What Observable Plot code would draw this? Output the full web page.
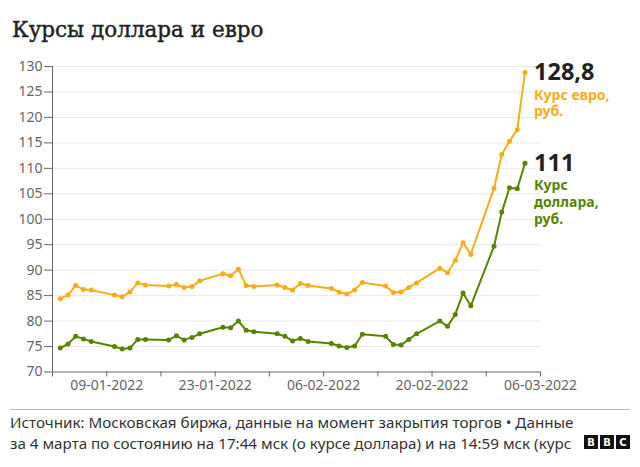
<!DOCTYPE html>
<html><head><meta charset="utf-8">
<script src="https://cdn.jsdelivr.net/npm/d3@7"></script>
<script src="https://cdn.jsdelivr.net/npm/@observablehq/plot@0.6"></script>
<style>
body{margin:0;background:#fff;width:640px;height:467px;overflow:hidden;position:relative;font-family:"Noto Sans",sans-serif;}
#title{position:absolute;left:12px;top:17px;font-family:"DejaVu Serif",serif;font-size:21.5px;color:#222;white-space:nowrap;-webkit-text-stroke:0.45px #222}
#chart{position:absolute;left:0;top:50px;}
#rule{position:absolute;left:10px;top:409px;width:620px;height:1px;background:#bbb}
#foot{position:absolute;left:10px;top:412px;font-size:15.2px;line-height:20.5px;color:#333;white-space:nowrap}
#logo{position:absolute;left:584px;top:435px;display:flex;gap:2px}
#logo span{width:14px;height:14px;background:#111;color:#fff;font:bold 10px "DejaVu Sans",sans-serif;display:flex;align-items:center;justify-content:center}
</style></head><body>
<div id="title">Курсы доллара и евро</div>
<div id="chart"></div>
<div id="rule"></div>
<div id="foot"><div>Источник: Московская биржа, данные на момент закрытия торгов • Данные</div><div>за 4 марта по состоянию на 17:44 мск (о курсе доллара) и на 14:59 мск (курс</div></div>
<div id="logo"><span>B</span><span>B</span><span>C</span></div>
<script>
const dates = [
  "2022-01-03","2022-01-04","2022-01-05","2022-01-06","2022-01-07",
  "2022-01-10","2022-01-11","2022-01-12","2022-01-13","2022-01-14",
  "2022-01-17","2022-01-18","2022-01-19","2022-01-20","2022-01-21",
  "2022-01-24","2022-01-25","2022-01-26","2022-01-27","2022-01-28",
  "2022-01-31","2022-02-01","2022-02-02","2022-02-03","2022-02-04",
  "2022-02-07","2022-02-08","2022-02-09","2022-02-10","2022-02-11",
  "2022-02-14","2022-02-15","2022-02-16","2022-02-17","2022-02-18",
  "2022-02-21","2022-02-22","2022-02-23","2022-02-24","2022-02-25",
  "2022-02-28","2022-03-01","2022-03-02","2022-03-03","2022-03-04"
];
const usd = [
  74.7, 75.5, 77.0, 76.5, 76.0,
  75.0, 74.5, 74.7, 76.4, 76.4,
  76.3, 77.1, 76.3, 76.8, 77.5,
  78.8, 78.7, 80.0, 78.2, 77.9,
  77.5, 77.0, 76.1, 76.6, 76.0,
  75.6, 75.1, 74.8, 75.1, 77.4,
  77.0, 75.4, 75.3, 76.4, 77.5,
  80.0, 79.0, 81.3, 85.5, 83.0,
  94.7, 101.4, 106.2, 106.0, 111.0
];
const eur = [
  84.4, 85.1, 87.0, 86.2, 86.1,
  85.1, 84.8, 85.7, 87.5, 87.1,
  86.9, 87.2, 86.6, 86.8, 87.9,
  89.3, 88.9, 90.2, 87.0, 86.8,
  87.1, 86.6, 86.1, 87.4, 87.0,
  86.4, 85.7, 85.3, 86.1, 87.6,
  86.9, 85.6, 85.7, 86.6, 87.5,
  90.4, 89.5, 91.9, 95.4, 93.1,
  106.1, 112.7, 115.3, 117.6, 128.8
];
const seriesKeys = ["eur", "usd"];
const seriesNames = ["Курс евро,\nруб.", "Курс\nдоллара,\nруб."];
const lastLabels = ["128,8", "111"];
const seriesColors = ["#FAAB18", "#588300"];
const yTicks = [70, 75, 80, 85, 90, 95, 100, 105, 110, 115, 120, 125, 130];
const xTickLabels = ["09-01-2022", "23-01-2022", "06-02-2022", "20-02-2022", "06-03-2022"];
const xDomain = ["2022-01-02", "2022-03-06"];

const parse = d3.utcParse("%Y-%m-%d");
const fmt = d3.utcFormat("%d-%m-%Y");
const seriesValues = [eur, usd];
const rows = [];
seriesValues.forEach((vals, i) => vals.forEach((v, j) => rows.push({date: parse(dates[j]), value: v, series: seriesKeys[i]})));
const lastRows = seriesValues.map((vals, i) => ({date: parse(dates[dates.length - 1]), value: vals[vals.length - 1], series: seriesKeys[i], name: seriesNames[i], label: lastLabels[i]}));
const x0 = parse(xDomain[0]), x1 = parse(xDomain[1]);
const weekTicks = d3.utcWeek.range(x0, d3.utcDay.offset(x1, 1));

const chart = Plot.plot({
  width: 640, height: 350,
  marginTop: 16, marginBottom: 28.5, marginLeft: 52, marginRight: 100,
  style: {fontFamily: "Noto Sans, sans-serif", fontSize: "14px", background: "transparent", overflow: "visible"},
  x: {type: "utc", domain: [x0, x1]},
  y: {domain: [70, 130]},
  color: {domain: seriesKeys, range: seriesColors},
  marks: [
    Plot.gridY(yTicks.filter(v => v > 70), {stroke: "#e8e8e8", strokeOpacity: 1}),
    Plot.axisY(yTicks, {tickSize: 8, tickPadding: 2, color: "#666", fontSize: 14, label: null}),
    Plot.axisX(weekTicks, {tickSize: 5, tickPadding: 3, color: "#666", fontSize: 14, label: null,
      tickFormat: d => xTickLabels.includes(fmt(d)) ? fmt(d) : ""}),
    Plot.ruleX([x0], {stroke: "#666"}),
    Plot.ruleY([70], {stroke: "#666"}),
    Plot.line(rows, {x: "date", y: "value", z: "series", stroke: "series", strokeWidth: 2}),
    Plot.dot(rows, {x: "date", y: "value", fill: "series", r: 2.5}),
    Plot.text(lastRows, {x: "date", y: "value", text: "label", dx: 9, textAnchor: "start", fontSize: 23.5, fontWeight: "bold", fill: "#222"}),
    Plot.text(lastRows, {x: "date", y: "value", text: "name", dx: 9, dy: 15, lineAnchor: "top", textAnchor: "start", fontSize: 14, fontWeight: "bold", lineHeight: 1.2, fill: "series"})
  ]
});
document.getElementById("chart").appendChild(chart);
</script>
</body></html>
